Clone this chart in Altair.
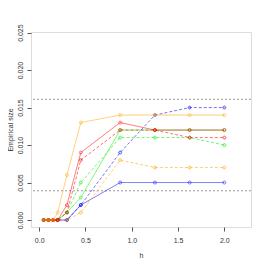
import altair as alt
import pandas as pd

h = [0.05, 0.1, 0.15, 0.2, 0.3, 0.45, 0.875, 1.25, 1.625, 2.0]
orange_solid = [0, 0, 0, 0.001, 0.006, 0.013, 0.014, 0.014, 0.014, 0.014]
red_solid = [0, 0, 0, 0, 0.002, 0.009, 0.013, 0.012, 0.012, 0.012]
red_dashed = [0, 0, 0, 0, 0.001, 0.008, 0.012, 0.012, 0.011, 0.011]
green_solid = [0, 0, 0, 0, 0.001, 0.003, 0.012, 0.012, 0.012, 0.012]
green_dashed = [0, 0, 0, 0, 0.001, 0.005, 0.011, 0.011, 0.011, 0.010]
blue_solid = [0, 0, 0, 0, 0, 0.002, 0.005, 0.005, 0.005, 0.005]
blue_dashed = [0, 0, 0, 0, 0, 0.002, 0.009, 0.014, 0.015, 0.015]
orange_dashed = [0, 0, 0, 0, 0, 0.001, 0.008, 0.007, 0.007, 0.007]
ref_lines = [0.0039, 0.0161]

series = [
    ("blue_dashed", blue_dashed, "#0000FF", "dashed"),
    ("blue_solid", blue_solid, "#0000FF", "solid"),
    ("green_dashed", green_dashed, "#00EE00", "dashed"),
    ("green_solid", green_solid, "#00EE00", "solid"),
    ("orange_dashed", orange_dashed, "#FFA500", "dashed"),
    ("red_dashed", red_dashed, "#FF0000", "dashed"),
    ("red_solid", red_solid, "#FF0000", "solid"),
    ("orange_solid", orange_solid, "#FFA500", "solid"),
]

rows = []
for name, vals, col, sty in series:
    for x, y in zip(h, vals):
        rows.append({"h": x, "v": y, "s": name})
df = pd.DataFrame(rows)

xs = alt.Scale(domain=[-0.088, 2.288], nice=False, zero=False)
ys = alt.Scale(domain=[-0.00093, 0.02508], nice=False, zero=False)
FONT = "Liberation Sans"

xax = alt.Axis(values=[0, 0.5, 1.0, 1.5, 2.0], format=".1f", title="h", grid=False,
               domain=False, ticks=True, tickColor="#555", tickSize=4, labelFontSize=7,
               labelColor="#333", titleFontSize=7, titleFontWeight="normal",
               titleColor="#333", labelFont=FONT, titleFont=FONT, titlePadding=8,
               labelPadding=5, labelOverlap=False, labelFlush=False)
yax = alt.Axis(values=[0, 0.005, 0.01, 0.015, 0.02, 0.025], format=".3f",
               title="Empirical size", grid=False, domain=False, ticks=True, tickColor="#555",
               tickSize=4, labelFontSize=7, labelColor="#333", labelAngle=-90,
               labelAlign="center", labelBaseline="bottom", titleFontSize=7,
               titleFontWeight="normal", titleColor="#333", labelFont=FONT,
               titleFont=FONT, titlePadding=3, labelPadding=4,
               labelOverlap=False, labelFlush=False)

base = alt.Chart(df)
layers = []
for name, vals, col, sty in series:
    d = base.transform_filter(alt.datum.s == name)
    dash = [3, 2] if sty == "dashed" else [1, 0]
    layers.append(d.mark_line(color=col, strokeWidth=1, opacity=0.55, strokeDash=dash).encode(
        x=alt.X("h:Q", scale=xs, axis=xax), y=alt.Y("v:Q", scale=ys, axis=yax)))
    layers.append(d.mark_point(color=col, size=9, opacity=0.55, filled=False, strokeWidth=1,
                               shape="circle" if sty == "solid" else "cross").encode(
        x=alt.X("h:Q", scale=xs, axis=xax), y=alt.Y("v:Q", scale=ys, axis=yax)))

refdf = pd.DataFrame({"r": ref_lines})
rules = alt.Chart(refdf).mark_rule(color="#999", strokeDash=[2, 2], strokeWidth=1).encode(
    y=alt.Y("r:Q", scale=ys, axis=yax))

chart = alt.layer(rules, *layers).properties(
    width=220, height=195,
    autosize=alt.AutoSizeParams(type="none"),
    padding={"left": 23, "top": 24, "right": 7, "bottom": 31},
).configure_view(stroke="#555", strokeWidth=1).configure(background="white")

chart.save("out.html", embed_options={"renderer": "svg", "actions": False})
